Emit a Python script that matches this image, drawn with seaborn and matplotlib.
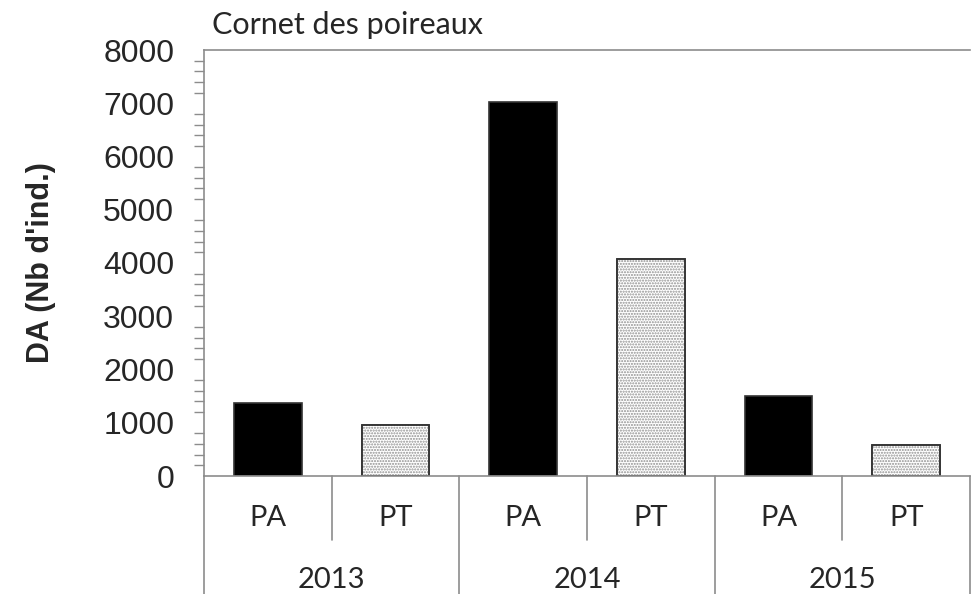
import matplotlib
matplotlib.use('Agg')
import matplotlib.pyplot as plt
import seaborn as sns
import pandas as pd

# Datos
annees = ['2013', '2014', '2015']
traitements = ['PA', 'PT']
valeurs = [1380, 960, 7030, 4075, 1500, 585]

sns.set_theme(style='white')
plt.rcParams['font.family'] = ['Liberation Sans', 'DejaVu Sans']

df = pd.DataFrame({
    'pos': [f'{a}-{t}' for a in annees for t in traitements],
    'traitement': [t for a in annees for t in traitements],
    'valeur': valeurs,
})

fig = plt.figure(figsize=(9.78, 5.94), dpi=100)
ax = fig.add_axes([204 / 978, 1 - 476 / 594, 766 / 978, 426 / 594])

gris = '#8c8c8c'

sns.barplot(data=df, x='pos', y='valeur', hue='traitement',
            palette={'PA': 'black', 'PT': 'white'}, dodge=False,
            width=0.53, legend=False, ax=ax, edgecolor='#333333', linewidth=1.2)

# Motif pointillé pour les barres PT (on trie les barres par position)
barres = sorted(list(ax.patches), key=lambda p: p.get_x())
for patch, t in zip(barres, df['traitement']):
    if t == 'PT':
        xc = patch.get_x() + patch.get_width() / 2
        ax.bar(xc, patch.get_height(), width=patch.get_width(),
               color='none', edgecolor='#909090', hatch='......', linewidth=0,
               zorder=patch.get_zorder() + 0.1)
        ax.bar(xc, patch.get_height(), width=patch.get_width(),
               color='none', edgecolor='#333333', linewidth=1.2,
               zorder=patch.get_zorder() + 0.2)

ax.set_xlim(-0.5, 5.5)
ax.set_ylim(0, 8000)
ax.set_yticks(range(0, 8001, 1000))
ax.set_yticks(range(0, 8001, 200), minor=True)
ax.tick_params(axis='y', which='major', direction='inout', length=19, width=1, color=gris,
               labelsize=23, pad=12)
ax.tick_params(axis='y', which='minor', direction='out', length=7, width=1, color=gris, left=True)
ax.set_xticks([])
ax.set_xlabel('')
ax.set_ylabel("DA (Nb d'ind.)", fontsize=22, fontweight='bold', labelpad=34)

for side in ['left', 'bottom', 'top']:
    ax.spines[side].set_color(gris)
    ax.spines[side].set_linewidth(1.2)
ax.spines['right'].set_visible(False)

# Axe des catégories à deux niveaux
trans = ax.get_xaxis_transform()
bas = -118 / 426
court = -64 / 426
for i in range(len(valeurs) + 1):
    xs = i - 0.5
    y_fin = bas if i % 2 == 0 else court
    ax.plot([xs, xs], [0, y_fin], color=gris, lw=1.2, transform=trans, clip_on=False)

for i, t in enumerate(df['traitement']):
    ax.text(i, -42 / 426, t, transform=trans, ha='center', va='center',
            fontsize=21, family=['Lato', 'DejaVu Sans'])
for j, a in enumerate(annees):
    ax.text(2 * j + 0.5, -104 / 426, a, transform=trans, ha='center', va='center',
            fontsize=21, family=['Lato', 'DejaVu Sans'])

fig.text(212 / 978, 1 - 25 / 594, 'Cornet des poireaux', ha='left', va='center',
         fontsize=22, family=['Lato', 'DejaVu Sans'])

fig.savefig('out.png', dpi=100)
